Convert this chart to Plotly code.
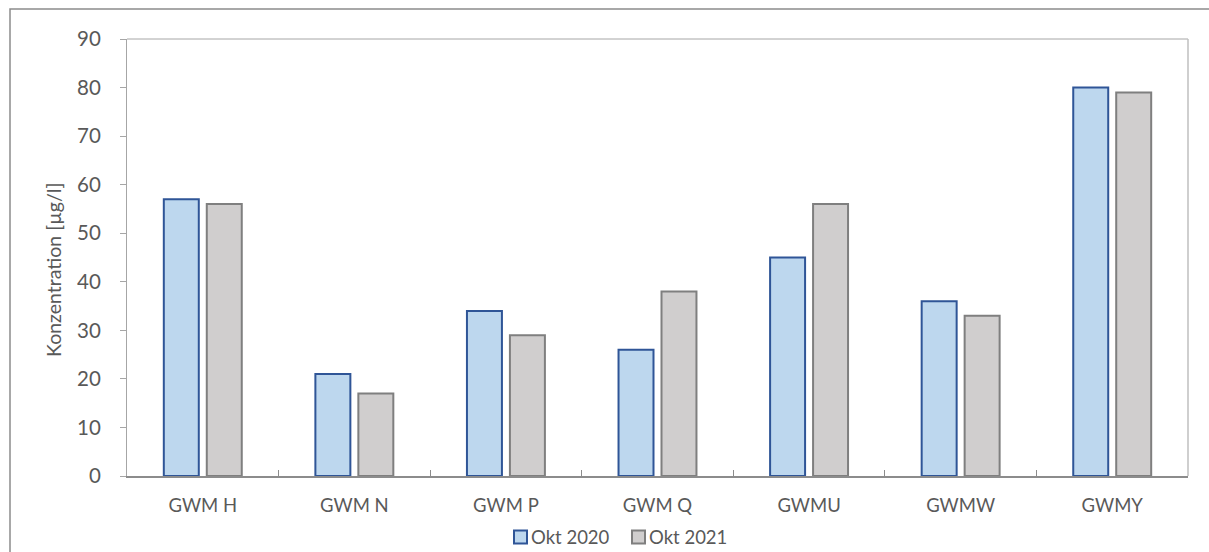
import plotly.graph_objects as go

# Messstellen und Konzentrationen
stations = ["GWM H", "GWM N", "GWM P", "GWM Q", "GWMU", "GWMW", "GWMY"]
okt_2020 = [57, 21, 34, 26, 45, 36, 80]
okt_2021 = [56, 17, 29, 38, 56, 33, 79]
y_ticks = [0, 10, 20, 30, 40, 50, 60, 70, 80, 90]

W, H = 1209, 552
ML, MR, MT, MB = 127, 21, 39, 76
pw, ph = W - ML - MR, H - MT - MB

txt = "#595959"
font = "Lato, 'Open Sans', sans-serif"

series = [
    dict(name="Okt 2020", y=okt_2020, fill="#BDD7EE", edge="#2F5597"),
    dict(name="Okt 2021", y=okt_2021, fill="#D0CECE", edge="#7F7F7F"),
]


def px_x(p):
    return (p - ML) / pw


def px_y(p):
    return (H - MB - p) / ph


fig = go.Figure()
for s in series:
    fig.add_trace(go.Bar(
        name=s["name"], x=stations, y=s["y"], showlegend=False,
        marker=dict(color=s["fill"], line=dict(color=s["edge"], width=2)),
    ))

# Rahmen um das gesamte Diagramm
fig.add_shape(
    type="rect", xref="paper", yref="paper",
    x0=px_x(10), x1=px_x(W + 20), y0=px_y(H + 20), y1=px_y(9),
    line=dict(color="#8C8C8C", width=1.5), layer="below",
)
# obere und rechte Begrenzung der Zeichenfläche
fig.add_shape(
    type="line", xref="paper", yref="paper", x0=0, x1=1, y0=1, y1=1,
    line=dict(color="#A6A6A6", width=1),
)
fig.add_shape(
    type="line", xref="paper", yref="paper", x0=1, x1=1, y0=0, y1=1,
    line=dict(color="#BFBFBF", width=1.5),
)

# Legende unter dem Diagramm
legend_x = [514, 632]
legend_y = 537
for lx, s in zip(legend_x, series):
    fig.add_shape(
        type="rect", xref="paper", yref="paper",
        x0=px_x(lx), x1=px_x(lx + 13),
        y0=px_y(legend_y + 6.5), y1=px_y(legend_y - 6.5),
        fillcolor=s["fill"], line=dict(color=s["edge"], width=2),
    )
    fig.add_annotation(
        xref="paper", yref="paper", x=px_x(lx + 15), y=px_y(legend_y),
        xanchor="left", yanchor="middle", showarrow=False,
        text=s["name"], font=dict(size=18.5, color=txt),
    )

# Achsentitel
fig.add_annotation(
    xref="paper", yref="paper", x=px_x(53), y=px_y(270),
    xanchor="center", yanchor="middle", showarrow=False, textangle=-90,
    text="Konzentration [µg/l]", font=dict(size=19.5, color=txt),
)

fig.update_layout(
    width=W, height=H,
    margin=dict(l=ML, r=MR, t=MT, b=MB),
    paper_bgcolor="white", plot_bgcolor="white",
    barmode="group", bargap=0.433, bargroupgap=0.186,
    font=dict(family=font, color=txt),
    showlegend=False,
    xaxis=dict(
        showline=True, linecolor="#8C8C8C", linewidth=2,
        ticks="inside", ticklen=6, tickcolor="#8C8C8C", tickwidth=1,
        tickson="boundaries", tickfont=dict(size=18.5, color=txt),
        ticklabelstandoff=12, showgrid=False, zeroline=False,
    ),
    yaxis=dict(
        range=[0, 90], tickvals=y_ticks, showgrid=False, zeroline=False,
        showline=True, linecolor="#A6A6A6", linewidth=1,
        ticks="outside", ticklen=6, tickcolor="#A6A6A6",
        tickfont=dict(size=20.5, color=txt), ticklabelstandoff=15,
    ),
)

fig.write_html("out.html")
